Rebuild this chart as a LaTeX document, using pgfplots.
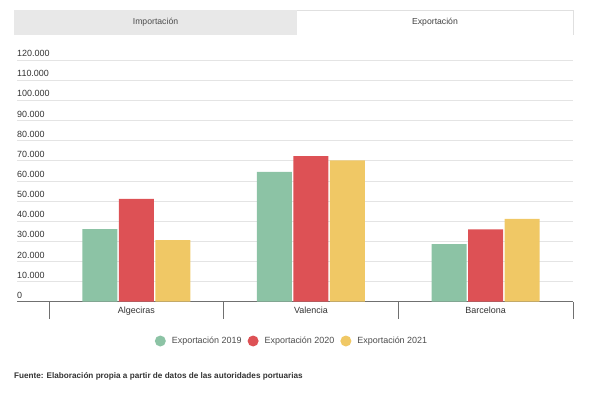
\documentclass[border=0pt]{standalone}
\usepackage{fontspec}
\setmainfont{Liberation Sans}
\usepackage{pgfplots}
\pgfplotsset{compat=1.18}
\definecolor{cg}{HTML}{8CC3A5}
\definecolor{cr}{HTML}{DD5155}
\definecolor{cy}{HTML}{F0C865}
\definecolor{gridc}{HTML}{E4E4E4}
\definecolor{axc}{HTML}{707070}
\definecolor{txt}{HTML}{333333}
\definecolor{tabg}{HTML}{E8E8E8}
\begin{document}
\begin{tikzpicture}[x=1bp,y=1bp]
\path[use as bounding box] (0,0) rectangle (604,399);
% tabs
\fill[tabg] (14,364) rectangle (297,389);
\draw[black!12,line width=0.6bp] (297,389) -- (573,389) -- (573,364);
\node[font=\fontsize{8.7}{10}\selectfont, text=black!70] at (155.5,377) {Importación};
\node[font=\fontsize{8.7}{10}\selectfont, text=black!75] at (435,377) {Exportación};
\begin{axis}[
  at={(17bp,97.3bp)}, anchor=south west,
  width=556bp, height=241.7bp, scale only axis,
  xmin=-0.683, xmax=2.5, ymin=0, ymax=120000,
  ybar=1.5bp, bar width=35bp,
  axis line style={draw=none},
  xtick={0,1,2}, xticklabels={Algeciras,Valencia,Barcelona},
  minor xtick={-0.5,0.5,1.5,2.5},
  major tick length=0pt, minor tick length=17bp, tick align=outside,
  xtick pos=lower, ytick pos=left,
  tick style={axc, line width=0.7bp},
  scaled y ticks=false,
  ytick={0,10000,20000,30000,40000,50000,60000,70000,80000,90000,100000,110000,120000},
  yticklabels={0,10.000,20.000,30.000,40.000,50.000,60.000,70.000,80.000,90.000,100.000,110.000,120.000},
  ymajorgrids, grid style={gridc, line width=0.6bp},
  extra y ticks={0}, extra y tick labels={},
  extra y tick style={grid style={axc, line width=1bp}},
  yticklabel style={anchor=south west, inner sep=0pt, yshift=3bp,
    font=\fontsize{9}{10}\selectfont, text=txt},
  xticklabel style={font=\fontsize{9}{10}\selectfont, text=txt, yshift=-2bp},
  legend columns=3,
  legend image code/.code={\fill[#1,draw=none] (5.5bp,0bp) circle (5.5bp);},
  legend style={at={(0.4946,-0.1626)}, anchor=center, draw=none, fill=none,
    font=\fontsize{9}{10}\selectfont, text=black!70,
    /tikz/every odd column/.append style={column sep=4bp},
    /tikz/every even column/.append style={column sep=4bp}},
]
\addplot[fill=cg, draw=none] coordinates {(0,36000) (1,64500) (2,28600)};
\addplot[fill=cr, draw=none] coordinates {(0,51000) (1,72300) (2,35900)};
\addplot[fill=cy, draw=none] coordinates {(0,30600) (1,70200) (2,41100)};
\legend{Exportación 2019, Exportación 2020, Exportación 2021}
\end{axis}
\node[anchor=west, inner sep=0pt, font=\bfseries\fontsize{8.2}{9}\selectfont, text=txt] at (14,23) {Fuente: Elaboración propia a partir de datos de las autoridades portuarias};
\end{tikzpicture}
\end{document}
